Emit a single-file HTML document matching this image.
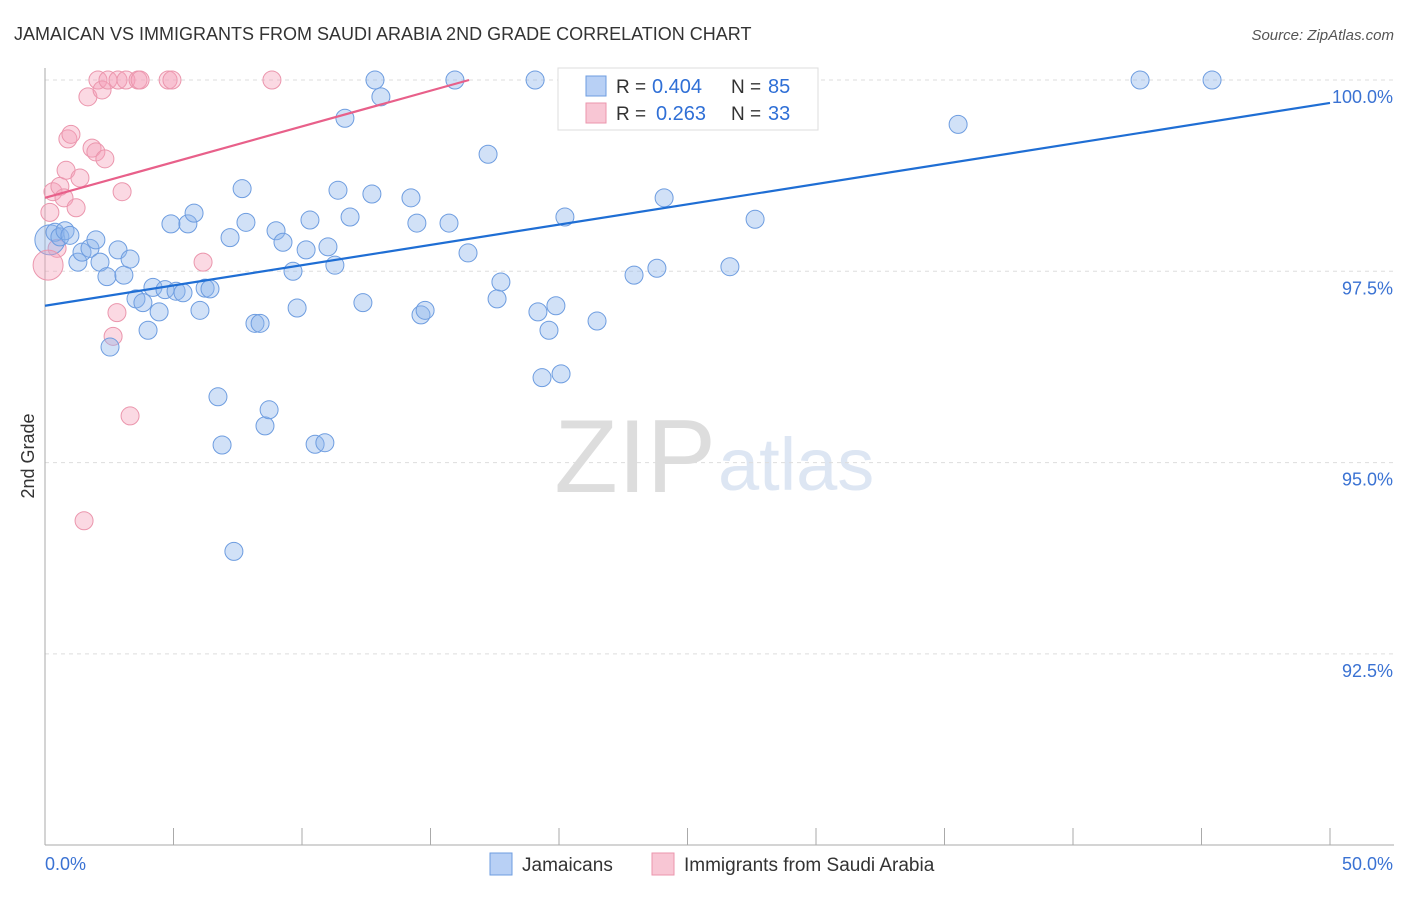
<!DOCTYPE html>
<html><head><meta charset="utf-8"><style>
body{margin:0;background:#fff;font-family:"Liberation Sans",sans-serif}
svg text{font-family:"Liberation Sans",sans-serif}
</style></head><body>
<svg id="chart" width="1406" height="892" xmlns="http://www.w3.org/2000/svg">
<text x="14" y="40" font-size="18" fill="#333">JAMAICAN VS IMMIGRANTS FROM SAUDI ARABIA 2ND GRADE CORRELATION CHART</text>
<text x="1394" y="40" font-size="15" fill="#555" font-style="italic" text-anchor="end">Source: ZipAtlas.com</text>
<text x="716" y="492" font-size="104" fill="#ddd" text-anchor="end" font-family="Liberation Serif">ZIP</text>
<text x="718" y="490" font-size="74" fill="#dde6f3">atlas</text>
<text transform="translate(34,456) rotate(-90)" font-size="18" fill="#333" text-anchor="middle">2nd Grade</text>
<g id="grid"></g><g id="axes"></g><g id="marks"></g>
<g>
<rect x="558" y="68" width="260" height="62" fill="#fff" stroke="#ddd"/>
<rect x="586" y="76" width="20" height="20" fill="#b8d0f5" stroke="#6e9de0"/>
<rect x="586" y="103" width="20" height="20" fill="#f8c6d4" stroke="#eb96ad"/>
<text x="616" y="93" font-size="19" fill="#333">R =</text><text x="652" y="93" font-size="20" fill="#2f6fd6">0.404</text>
<text x="731" y="93" font-size="19" fill="#333">N =</text><text x="768" y="93" font-size="20" fill="#2f6fd6">85</text>
<text x="616" y="120" font-size="19" fill="#333">R =</text><text x="656" y="120" font-size="20" fill="#2f6fd6">0.263</text>
<text x="731" y="120" font-size="19" fill="#333">N =</text><text x="768" y="120" font-size="20" fill="#2f6fd6">33</text>
</g>
<g>
<rect x="490" y="853" width="22" height="22" fill="#b8d0f5" stroke="#6e9de0"/>
<text x="522" y="871" font-size="19" fill="#333">Jamaicans</text>
<rect x="652" y="853" width="22" height="22" fill="#f8c6d4" stroke="#eb96ad"/>
<text x="684" y="871" font-size="19" fill="#333">Immigrants from Saudi Arabia</text>
</g>
</svg>
<script>
const blueX=[0.39,0.58,0.78,0.97,1.28,1.44,1.75,1.98,2.14,2.41,2.53,2.84,3.07,3.31,3.54,3.81,4.01,4.20,4.44,4.67,4.90,5.10,5.37,5.56,5.80,6.03,6.23,6.42,6.73,6.89,7.20,7.35,7.67,7.82,8.17,8.37,8.56,8.72,8.99,9.26,9.65,9.81,10.16,10.31,10.51,10.89,11.01,11.28,11.40,11.67,11.87,12.37,12.72,12.84,13.07,14.24,14.47,14.63,14.79,15.72,15.95,16.46,17.24,17.59,17.74,19.07,19.18,19.34,19.61,19.88,20.08,20.23,21.48,22.92,23.81,24.09,26.50,26.65,27.28,27.63,28.52,35.53,42.61,45.41];
const blueY=[98.01,97.95,98.03,97.97,97.62,97.75,97.80,97.91,97.62,97.43,96.51,97.78,97.45,97.66,97.14,97.09,96.73,97.29,96.97,97.26,98.12,97.24,97.22,98.12,98.26,96.99,97.28,97.27,95.86,95.23,97.94,93.84,98.58,98.14,96.82,96.82,95.48,95.69,98.03,97.88,97.50,97.02,97.78,98.17,95.24,95.26,97.82,97.58,98.56,99.50,98.21,97.09,98.51,100,99.78,98.46,98.13,96.93,96.99,98.13,100,97.74,99.03,97.14,97.36,100,96.97,96.11,96.73,97.05,96.16,98.21,96.85,97.45,97.54,98.46,100,97.56,100,98.18,100,99.42,100,100];
const pinkX=[0.19,0.31,0.47,0.58,0.74,0.82,0.89,1.01,1.21,1.36,1.52,1.67,1.83,1.98,2.06,2.22,2.33,2.45,2.65,2.80,2.84,3.00,3.15,3.31,3.62,3.70,4.79,4.94,6.15,8.83,20.43];
const pinkY=[98.27,98.54,97.80,98.61,98.46,98.82,99.23,99.29,98.33,98.72,94.24,99.78,99.11,99.06,100,99.87,98.97,100,96.65,96.96,100,98.54,100,95.61,100,100,100,100,97.62,100,100];
const bigX=[0.19,0.12], bigY=[97.91,97.58];
const blueTrend=[97.05,99.70], pinkTrend=[98.46,100], pinkTrendEnd=16.5;
const yTicks=[100,97.5,95,92.5], yTickLabels=["100.0%","97.5%","95.0%","92.5%"];
const xTicks=[0,5,10,15,20,25,30,35,40,45,50];
const X=v=>45+v/50*1285, Y=v=>80+(100-v)*76.52;
const NS="http://www.w3.org/2000/svg";
function mk(parent,tag,attrs){const e=document.createElementNS(NS,tag);for(const k in attrs)e.setAttribute(k,attrs[k]);document.getElementById(parent).appendChild(e);return e;}
yTicks.forEach((t,i)=>{
 const g=mk('grid','line',{x1:45,x2:1394,y1:Y(t),y2:Y(t),stroke:'#ddd','stroke-dasharray':'4,4'});
 
 
 const l=mk('axes','text',{x:1393,y:Y(t)+23,'font-size':18,fill:'#3a72d3','text-anchor':'end'});
 l.textContent=yTickLabels[i];
 
 
});
const ya=mk('axes','line',{x1:45,x2:45,y1:68,y2:845,stroke:'#aaa'});


const xa=mk('axes','line',{x1:45,x2:1394,y1:845,y2:845,stroke:'#aaa'});


xTicks.forEach(t=>{
 const k=mk('axes','line',{x1:X(t),x2:X(t),y1:828,y2:845,stroke:'#aaa'});
 
 
});
const xl0=mk('axes','text',{x:45,y:870,'font-size':18,fill:'#3a72d3'});xl0.textContent='0.0%';


const xl1=mk('axes','text',{x:1393,y:870,'font-size':18,fill:'#3a72d3','text-anchor':'end'});xl1.textContent='50.0%';


pinkX.forEach((x,i)=>{
 const c=mk('marks','circle',{cx:X(x),cy:Y(pinkY[i]),r:9,fill:'rgba(244,160,185,0.4)',stroke:'#eb96ad','stroke-width':1});
 
 
});
bigX.forEach((x,i)=>{
 const c=mk('marks','circle',{cx:X(x),cy:Y(bigY[i]),r:15,fill:i?'rgba(244,160,185,0.4)':'rgba(140,180,235,0.4)',stroke:i?'#eb96ad':'#6e9de0'});
 
 
});
blueX.forEach((x,i)=>{
 const c=mk('marks','circle',{cx:X(x),cy:Y(blueY[i]),r:9,fill:'rgba(140,180,235,0.4)',stroke:'#6e9de0','stroke-width':1});
 
 
});
const bl=mk('marks','line',{x1:X(0),y1:Y(blueTrend[0]),x2:X(50),y2:Y(blueTrend[1]),stroke:'#1f6ed4','stroke-width':2.2});


const pl=mk('marks','line',{x1:X(0),y1:Y(pinkTrend[0]),x2:X(pinkTrendEnd),y2:Y(pinkTrend[1]),stroke:'#e8608a','stroke-width':2.2});


</script>
</body></html>
